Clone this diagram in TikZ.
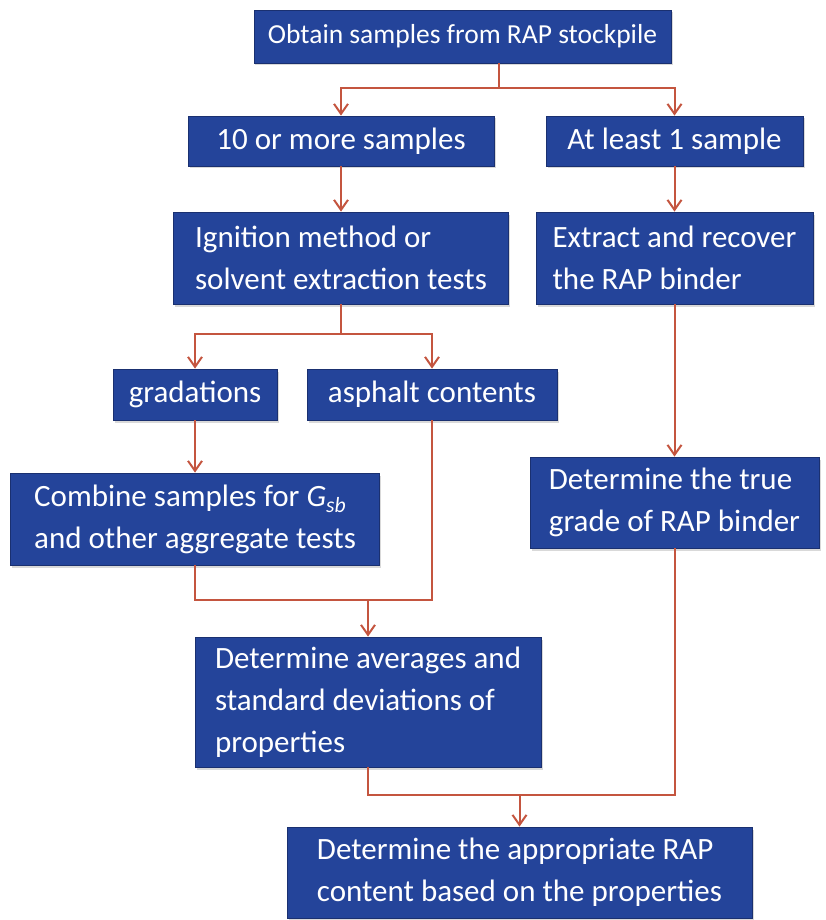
\documentclass[tikz,border=0pt]{standalone}
\usepackage{fontspec}
\setmainfont{Carlito}
\usetikzlibrary{arrows.meta,shadows}
\definecolor{boxblue}{HTML}{24449A}
\definecolor{boxedge}{HTML}{1A3070}
\definecolor{link}{HTML}{C4553F}
\tikzset{flowbox/.style={fill=boxblue,draw=boxedge,line width=.8pt,text=white,
    inner xsep=14pt,inner ysep=4pt,align=left,
    font=\fontsize{31}{42}\selectfont,
    drop shadow={opacity=.3,shadow xshift=1.5pt,shadow yshift=-2.5pt}},
  flow/.style={draw=link,line width=2pt},
  flowarr/.style={flow,-{Straight Barb[length=10pt,width=14pt,line width=2pt]}}}
\begin{document}
\begin{tikzpicture}[x=1pt,y=-1pt]
\useasboundingbox (0,0) rectangle (825,920);
% boxes
\node[flowbox,minimum width=415,minimum height=53,font=\fontsize{27.5}{36}\selectfont] (obtain) at (462.5,36.5) {Obtain samples from RAP stockpile};
\node[flowbox,minimum width=306,minimum height=50] (ten) at (341,141) {10 or more samples};
\node[flowbox,minimum width=257,minimum height=50] (least) at (674.5,141) {At least 1 sample};
\node[flowbox,minimum width=335,minimum height=92] (ignite) at (341,258) {Ignition method or\\solvent extraction tests};
\node[flowbox,minimum width=277,minimum height=92] (extract) at (674.5,258) {Extract and recover\\the RAP binder};
\node[flowbox,minimum width=164,minimum height=51] (grad) at (195,394.5) {gradations};
\node[flowbox,minimum width=250,minimum height=51] (asph) at (432,394.5) {asphalt contents};
\node[flowbox,minimum width=369,minimum height=92] (combine) at (195,519) {Combine samples for \textit{G}\textsubscript{\textit{sb}}\\and other aggregate tests};
\node[flowbox,minimum width=289,minimum height=91] (grade) at (674.5,502.5) {Determine the true\\grade of RAP binder};
\node[flowbox,minimum width=346,minimum height=130] (avg) at (368,702) {Determine averages and\\standard deviations of\\properties};
\node[flowbox,minimum width=465,minimum height=91] (final) at (519.5,872.5) {Determine the appropriate RAP\\content based on the properties};
% junctions
\coordinate (split1) at (499,88);
\coordinate (split2) at (341,334);
\coordinate (join1) at (368,600);
\coordinate (join2) at (519.5,795);
% connectors
\draw[flow] (obtain.south -| split1) -- (split1);
\draw[flowarr] (split1) -| (ten.north);
\draw[flowarr] (split1) -| (least.north);
\draw[flowarr] (ten) -- (ignite);
\draw[flowarr] (least) -- (extract);
\draw[flow] (ignite) -- (split2);
\draw[flowarr] (split2) -| (grad.north);
\draw[flowarr] (split2) -| (asph.north);
\draw[flowarr] (grad) -- (combine);
\draw[flowarr] (extract) -- (grade);
\draw[flow] (combine.south) |- (join1) -| (asph.south);
\draw[flowarr] (join1) -- (avg);
\draw[flow] (avg.south) |- (join2) -| (grade.south);
\draw[flowarr] (join2) -- (final);
\end{tikzpicture}
\end{document}
